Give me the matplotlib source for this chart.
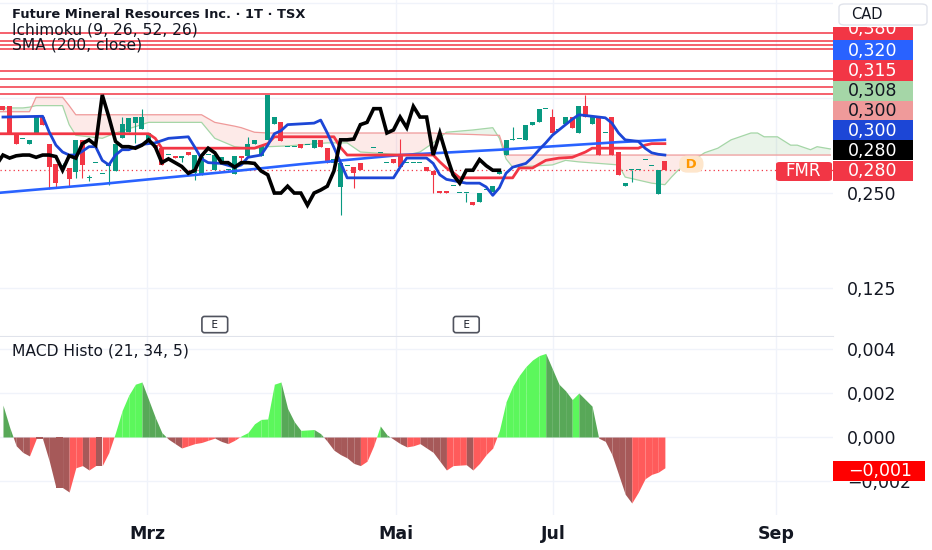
import matplotlib
matplotlib.use("Agg")
import matplotlib.pyplot as plt
from matplotlib.patches import Rectangle, FancyBboxPatch
from matplotlib.ticker import FixedLocator, FuncFormatter
import numpy as np

# daily candles (bar index 0..100)
opens = [0.365, 0.365, 0.329, 0.321, 0.315, 0.329, 0.350, 0.315, 0.288, 0.286,
         0.283, 0.278, 0.320, 0.270, 0.289, 0.275, 0.285, 0.279, 0.322, 0.330,
         0.342, 0.334, 0.319, 0.313, 0.309, 0.300, 0.299, 0.296, 0.304, 0.276,
         0.274, 0.300, 0.280, 0.292, 0.280, 0.275, 0.299, 0.299, 0.315, 0.299,
         0.320, 0.341, 0.343, 0.311, 0.311, 0.314, 0.313, 0.309, 0.320, 0.309,
         0.290, 0.258, 0.285, 0.284, 0.290, 0.299, 0.309, 0.303, 0.290, 0.295,
         0.300, 0.290, 0.290, 0.289, 0.284, 0.279, 0.253, 0.253, 0.259, 0.250,
         0.250, 0.238, 0.238, 0.254, 0.251, 0.275, 0.300, 0.320, 0.321, 0.320,
         0.340, 0.343, 0.361, 0.350, 0.333, 0.341, 0.350, 0.329, 0.364, 0.341,
         0.350, 0.329, 0.350, 0.304, 0.259, 0.280, 0.280, 0.294, 0.286, 0.249,
         0.292]
highs = [0.365, 0.365, 0.329, 0.321, 0.320, 0.350, 0.350, 0.315, 0.288, 0.290,
         0.283, 0.320, 0.320, 0.274, 0.289, 0.275, 0.289, 0.315, 0.350, 0.349,
         0.350, 0.361, 0.329, 0.313, 0.309, 0.300, 0.299, 0.299, 0.304, 0.300,
         0.297, 0.300, 0.300, 0.298, 0.280, 0.299, 0.299, 0.324, 0.320, 0.313,
         0.379, 0.350, 0.343, 0.311, 0.311, 0.314, 0.313, 0.320, 0.320, 0.309,
         0.295, 0.290, 0.285, 0.284, 0.290, 0.299, 0.309, 0.303, 0.290, 0.295,
         0.321, 0.290, 0.290, 0.289, 0.284, 0.279, 0.253, 0.253, 0.259, 0.250,
         0.250, 0.238, 0.250, 0.254, 0.259, 0.279, 0.320, 0.337, 0.321, 0.340,
         0.343, 0.361, 0.361, 0.361, 0.333, 0.350, 0.350, 0.364, 0.379, 0.350,
         0.350, 0.329, 0.350, 0.304, 0.263, 0.280, 0.280, 0.294, 0.286, 0.280,
         0.292]
lows = [0.359, 0.329, 0.315, 0.321, 0.315, 0.329, 0.340, 0.255, 0.257, 0.282,
        0.259, 0.270, 0.270, 0.266, 0.289, 0.275, 0.261, 0.279, 0.322, 0.330,
        0.316, 0.334, 0.319, 0.309, 0.287, 0.300, 0.296, 0.291, 0.300, 0.267,
        0.274, 0.300, 0.280, 0.292, 0.280, 0.275, 0.287, 0.299, 0.315, 0.299,
        0.320, 0.341, 0.318, 0.311, 0.311, 0.309, 0.313, 0.309, 0.311, 0.290,
        0.290, 0.221, 0.285, 0.257, 0.280, 0.299, 0.309, 0.303, 0.290, 0.290,
        0.284, 0.290, 0.290, 0.289, 0.279, 0.250, 0.250, 0.250, 0.259, 0.250,
        0.238, 0.234, 0.238, 0.254, 0.251, 0.275, 0.300, 0.320, 0.321, 0.320,
        0.340, 0.343, 0.361, 0.329, 0.333, 0.341, 0.336, 0.329, 0.350, 0.341,
        0.300, 0.329, 0.300, 0.274, 0.259, 0.265, 0.280, 0.294, 0.286, 0.249,
        0.280]
closes = [0.359, 0.329, 0.315, 0.321, 0.320, 0.350, 0.340, 0.284, 0.263, 0.286,
          0.268, 0.320, 0.287, 0.270, 0.289, 0.275, 0.289, 0.315, 0.341, 0.349,
          0.350, 0.350, 0.329, 0.309, 0.287, 0.300, 0.296, 0.299, 0.300, 0.300,
          0.297, 0.300, 0.300, 0.298, 0.280, 0.299, 0.296, 0.315, 0.320, 0.313,
          0.379, 0.350, 0.318, 0.311, 0.311, 0.309, 0.313, 0.320, 0.311, 0.290,
          0.295, 0.290, 0.285, 0.276, 0.280, 0.299, 0.309, 0.303, 0.290, 0.290,
          0.284, 0.290, 0.290, 0.289, 0.279, 0.274, 0.250, 0.250, 0.259, 0.250,
          0.250, 0.234, 0.250, 0.254, 0.259, 0.279, 0.320, 0.320, 0.321, 0.340,
          0.343, 0.361, 0.361, 0.329, 0.333, 0.350, 0.336, 0.364, 0.350, 0.350,
          0.300, 0.329, 0.300, 0.274, 0.263, 0.280, 0.280, 0.294, 0.286, 0.280,
          0.280]

# SMA 200
sma_bars = [-1, 15, 22, 34, 45, 60, 75, 84, 93, 100]
sma_vals = [0.250, 0.262, 0.268, 0.278, 0.288, 0.300, 0.307, 0.312, 0.317, 0.320]

# Ichimoku conversion (tenkan) and base (kijun) lines
tenkan_bars = [0, 6, 7, 8, 9, 10, 11, 12, 13, 14, 15, 16, 17, 18, 19, 21, 23, 25, 28, 29,
               30, 31, 33, 35, 36, 37, 39, 40, 41, 42, 43, 47, 48, 49, 50, 51, 52, 59, 60, 61,
               64, 65, 66, 67, 70, 72, 73, 74, 75, 76, 77, 79, 80, 81, 82, 83, 84, 85, 86, 87,
               89, 91, 92, 93, 94, 96, 97, 98, 99, 100]
tenkan_vals = [0.350, 0.351, 0.330, 0.313, 0.304, 0.300, 0.300, 0.305, 0.311, 0.311,
               0.293, 0.287, 0.300, 0.307, 0.307, 0.314, 0.316, 0.322, 0.324, 0.310,
               0.295, 0.290, 0.289, 0.284, 0.287, 0.297, 0.300, 0.313, 0.328, 0.332,
               0.340, 0.342, 0.346, 0.329, 0.310, 0.290, 0.270, 0.270, 0.284, 0.296,
               0.296, 0.289, 0.274, 0.268, 0.263, 0.263, 0.258, 0.247, 0.257, 0.276,
               0.284, 0.289, 0.297, 0.307, 0.316, 0.326, 0.333, 0.340, 0.347, 0.353,
               0.351, 0.349, 0.342, 0.329, 0.320, 0.318, 0.309, 0.303, 0.301, 0.300]
kijun_bars = [-1, 22, 23, 24, 38, 40, 41, 50, 51, 52, 65, 66, 67, 68, 69, 77, 78, 80, 82, 84,
              86, 88, 89, 96, 97, 98, 100]
kijun_vals = [0.328, 0.328, 0.322, 0.309, 0.309, 0.315, 0.324, 0.324, 0.310, 0.300,
              0.300, 0.291, 0.283, 0.277, 0.270, 0.270, 0.283, 0.283, 0.293, 0.296,
              0.297, 0.304, 0.309, 0.309, 0.313, 0.315, 0.315]

# cloud (leading spans, already shifted forward)
cloud_bars = [-1, 3, 4, 5, 9, 10, 11, 15, 17, 22, 30, 32, 35, 36, 38, 40, 43, 49, 52, 54,
              61, 63, 65, 67, 71, 74, 75, 76, 77, 83, 84, 85, 87, 93, 94, 96, 98, 100, 101, 102,
              106, 108, 110, 113, 114, 115, 117, 119, 120, 122, 123, 125]
lead1 = [0.362, 0.362, 0.363, 0.365, 0.365, 0.340, 0.326, 0.322, 0.329, 0.343,
         0.343, 0.322, 0.311, 0.310, 0.309, 0.311, 0.312, 0.316, 0.316, 0.304,
         0.300, 0.304, 0.316, 0.330, 0.333, 0.336, 0.322, 0.295, 0.284, 0.287,
         0.290, 0.293, 0.291, 0.287, 0.271, 0.267, 0.263, 0.261, 0.271, 0.280,
         0.303, 0.309, 0.320, 0.329, 0.329, 0.324, 0.324, 0.313, 0.313, 0.307,
         0.311, 0.308]
lead2 = [0.357, 0.357, 0.357, 0.376, 0.376, 0.365, 0.353, 0.353, 0.353, 0.353,
         0.353, 0.343, 0.338, 0.336, 0.330, 0.329, 0.329, 0.329, 0.329, 0.329,
         0.329, 0.329, 0.329, 0.328, 0.327, 0.326, 0.326, 0.300, 0.300, 0.300,
         0.300, 0.300, 0.300, 0.300, 0.300, 0.300, 0.300, 0.300, 0.300, 0.300,
         0.300, 0.300, 0.300, 0.300, 0.300, 0.300, 0.300, 0.300, 0.300, 0.300,
         0.300, 0.300]
LAG = 25

# horizontal resistance lines
levels = [0.46, 0.45, 0.445, 0.44, 0.41, 0.40, 0.39, 0.38]

# MACD histogram (21, 34, 5)
macd_hist = [0.00145, 0.00045, -0.0004, -0.0007, -0.00086, -0.0001, -0.0001, -0.0011, -0.0023, -0.0023,
             -0.0025, -0.0014, -0.0013, -0.0015, -0.0013, -0.0013, -0.0007, 0.0002, 0.0012, 0.0019,
             0.0024, 0.0025, 0.0017, 0.0009, 0.0002, -0.0001, -0.0003, -0.0005, -0.0004, -0.0003,
             -0.00025, -0.00015, -0.00005, -0.0002, -0.0003, -0.00015, 0.00005, 0.0002, 0.0006, 0.0008,
             0.00082, 0.0024, 0.0025, 0.0013, 0.0007, 0.0003, 0.00032, 0.00034, 0.00015, -0.0002,
             -0.0006, -0.0008, -0.00095, -0.0012, -0.0013, -0.0011, -0.0004, 0.0005, 0.0001, -0.0001,
             -0.0003, -0.00045, -0.0004, -0.0003, -0.0005, -0.0007, -0.0011, -0.0015, -0.0013, -0.00128,
             -0.00126, -0.0015, -0.0012, -0.0008, -0.0005, 0.0003, 0.0016, 0.0023, 0.0028, 0.0032,
             0.0035, 0.0037, 0.0038, 0.0031, 0.0024, 0.0021, 0.0017, 0.0020, 0.0017, 0.0014,
             -0.00005, -0.0002, -0.0008, -0.0017, -0.0026, -0.0030, -0.0025, -0.0019, -0.0017, -0.0016,
             -0.0014]

month_ticks = [21.75, 59.4, 83.1, 116.8]
month_labels = ["Mrz", "Mai", "Jul", "Sep"]
earnings_bars = [32, 70]
dividend_bar, dividend_price = 104, 0.288

UP, DOWN = "#089981", "#f23645"
TXT = "#131722"
GRID = "#f0f3fa"
SCALE_FS = 12.5


def fmt(v):
    return f"{v:.3f}".replace(".", ",").replace("-", "\u2212")


W, H = 932, 550
fig = plt.figure(figsize=(W / 100, H / 100), dpi=100)


def fx(px):
    return px / W


def fy(py):
    return 1 - py / H


ax = fig.add_axes([0, fy(336), fx(833), 336 / H])
ax2 = fig.add_axes([0, fy(515), fx(833), (515 - 337) / H], sharex=ax)

# ---- price pane ----
cb, l1, l2 = np.array(cloud_bars), np.array(lead1), np.array(lead2)
ax.fill_between(cb, l1, l2, where=l1 >= l2, interpolate=True, color="#43a047", alpha=0.11, lw=0, zorder=1)
ax.fill_between(cb, l1, l2, where=l1 < l2, interpolate=True, color="#f44336", alpha=0.11, lw=0, zorder=1)
ax.plot(cb, l1, color="#a5d6a7", lw=0.9, zorder=2)
ax.plot(cb, l2, color="#ef9a9a", lw=0.9, zorder=2)

for lv in levels:
    ax.axhline(lv, color=DOWN, lw=1.1, zorder=2)

x = np.arange(len(closes))
o, h, l, c = map(np.array, (opens, highs, lows, closes))
col = np.where(c >= o, UP, DOWN)
ax.vlines(x, l, h, colors=col, lw=0.8, zorder=3)
ax.bar(x, np.maximum(np.abs(c - o), 0.0013), bottom=np.minimum(o, c), width=0.76,
       color=col, linewidth=0, zorder=3)

ax.axhline(closes[-1], color=DOWN, lw=0.9, ls=(0, (1, 2.5)), zorder=2)

ax.plot(sma_bars, sma_vals, color="#2962ff", lw=1.9, zorder=4)
ax.plot(kijun_bars, kijun_vals, color=DOWN, lw=2.0, zorder=5)
ax.plot(tenkan_bars, tenkan_vals, color="#1c46d6", lw=2.0, zorder=5)
ax.plot(x[24:] - LAG, c[24:], color="black", lw=2.6, zorder=6, solid_joinstyle="miter")

for eb in earnings_bars:
    ax.text(eb, 0.034, "  E  ", transform=ax.get_xaxis_transform(), ha="center", va="center",
            fontsize=7.5, color=TXT, zorder=8,
            bbox=dict(boxstyle="round,pad=0.3,rounding_size=0.25", fc="white", ec="#50535e", lw=1.2))
ax.text(dividend_bar, dividend_price, " D ", ha="center", va="center", fontsize=9.5,
        fontweight="bold", color="#ff9800", zorder=8,
        bbox=dict(boxstyle="round,pad=0.15,rounding_size=0.6", fc="#fee6cc", ec="none"))

ax.set_xlim(-0.45, 125.4)
ax.set_ylim(0.0619, 0.504)
ax.yaxis.tick_right()
ax.yaxis.set_major_locator(FixedLocator([0.125, 0.25, 0.375, 0.5]))
ax.yaxis.set_major_formatter(FuncFormatter(lambda v, p: fmt(v) if v < 0.3 else ""))
ax.tick_params(axis="y", length=0, pad=10, labelsize=SCALE_FS, labelcolor=TXT)
ax.tick_params(axis="x", length=0, labelbottom=False)
ax.grid(True, color=GRID, lw=1)
ax.set_axisbelow(True)
for s in ax.spines.values():
    s.set_visible(False)
ax.spines["bottom"].set_visible(True)
ax.spines["bottom"].set_color("#e0e3eb")

# ---- MACD pane ----
mh = np.array(macd_hist)
COLS = {(True, True): "#5cf75c", (True, False): "#58a858",
        (False, True): "#ff5b5b", (False, False): "#a65959"}
for i in range(1, len(mh)):
    v0, v1 = mh[i - 1], mh[i]
    rising = v1 > v0
    if v0 * v1 < 0:
        xc = (i - 1) + v0 / (v0 - v1)
        parts = [(i - 1, xc, v0, 0.0), (xc, i, 0.0, v1)]
    else:
        parts = [(i - 1, i, v0, v1)]
    for a, b, p, q in parts:
        pos = (p + q) > 0
        ax2.fill_between([a, b], [p, q], 0, color=COLS[(pos, rising)], lw=0, zorder=2)

ax2.set_ylim(-0.003545, 0.004545)
ax2.yaxis.tick_right()
ax2.yaxis.set_major_locator(FixedLocator([-0.002, 0.0, 0.002, 0.004]))
ax2.yaxis.set_major_formatter(FuncFormatter(lambda v, p: fmt(v)))
ax2.tick_params(axis="y", length=0, pad=10, labelsize=SCALE_FS, labelcolor=TXT)
ax2.set_xticks(month_ticks, month_labels)
ax2.tick_params(axis="x", length=0, pad=7, labelsize=12.5, labelcolor=TXT)
for lbl in ax2.get_xticklabels():
    lbl.set_fontweight("bold")
ax2.grid(True, color=GRID, lw=1)
ax2.set_axisbelow(True)
for s in ax2.spines.values():
    s.set_visible(False)

# ---- legends ----
fig.text(fx(12), fy(15), "Future Mineral Resources Inc. \u00b7 1T \u00b7 TSX", fontsize=9.4,
         fontweight="bold", color=TXT, va="center")
fig.text(fx(12), fy(30), "Ichimoku (9, 26, 52, 26)", fontsize=11.2, color=TXT, va="center")
fig.text(fx(12), fy(44.5), "SMA (200, close)", fontsize=11.2, color=TXT, va="center")
fig.text(fx(12), fy(351), "MACD Histo (21, 34, 5)", fontsize=11.2, color=TXT, va="center")


# ---- price scale tags ----
def tag(yc, text, bg, fg, x0=833, x1=913, hh=20):
    fig.patches.append(Rectangle((fx(x0), fy(yc + hh / 2)), fx(x1) - fx(x0), hh / H,
                                 transform=fig.transFigure, fc=bg, ec="none", zorder=5))
    fig.text(fx(848), fy(yc), text, color=fg, fontsize=SCALE_FS, va="center", ha="left", zorder=6)


tags = [
    (29.5, levels[-1], DOWN, "white"),
    (50.5, sma_vals[-1], "#2962ff", "white"),
    (70.5, kijun_vals[-1], DOWN, "white"),
    (90.5, lead1[-1], "#a5d6a7", TXT),
    (110.5, lead2[-1], "#ef9a9a", TXT),
    (130.5, tenkan_vals[-1], "#1c46d6", "white"),
    (150.5, closes[-1], "black", "white"),
    (171, closes[-1], DOWN, "white"),
]
for yc, v, bg, fg in tags:
    tag(yc, fmt(v), bg, fg)

# symbol tag on the close line
fig.patches.append(FancyBboxPatch((fx(776), fy(181)), fx(832) - fx(776), 19 / H,
                                  boxstyle="round,pad=0,rounding_size=0.004",
                                  transform=fig.transFigure, fc=DOWN, ec="none", zorder=5))
fig.text(fx(803), fy(171.5), "FMR", color="white", fontsize=12, ha="center", va="center", zorder=6)

# MACD last value tag (covers the -0,002 scale label like the original)
fig.patches.append(Rectangle((fx(833), fy(481)), fx(925) - fx(833), 20 / H,
                             transform=fig.transFigure, fc="#ff0000", ec="none", zorder=5))
fig.text(fx(848), fy(471), fmt(mh[-1]), color="white", fontsize=SCALE_FS, va="center", zorder=6)

# top cover + currency button
fig.patches.append(Rectangle((fx(833), fy(27)), 1 - fx(833), 27 / H,
                             transform=fig.transFigure, fc="white", ec="none", zorder=7))
fig.patches.append(FancyBboxPatch((fx(839), fy(25)), fx(927) - fx(839), 21 / H,
                                  boxstyle="round,pad=0,rounding_size=0.006",
                                  transform=fig.transFigure, fc="white", ec="#e0e3eb", lw=1, zorder=8))
fig.text(fx(851), fy(14.5), "CAD", color=TXT, fontsize=10.5, va="center", zorder=9)

fig.savefig("out.png", dpi=100)
